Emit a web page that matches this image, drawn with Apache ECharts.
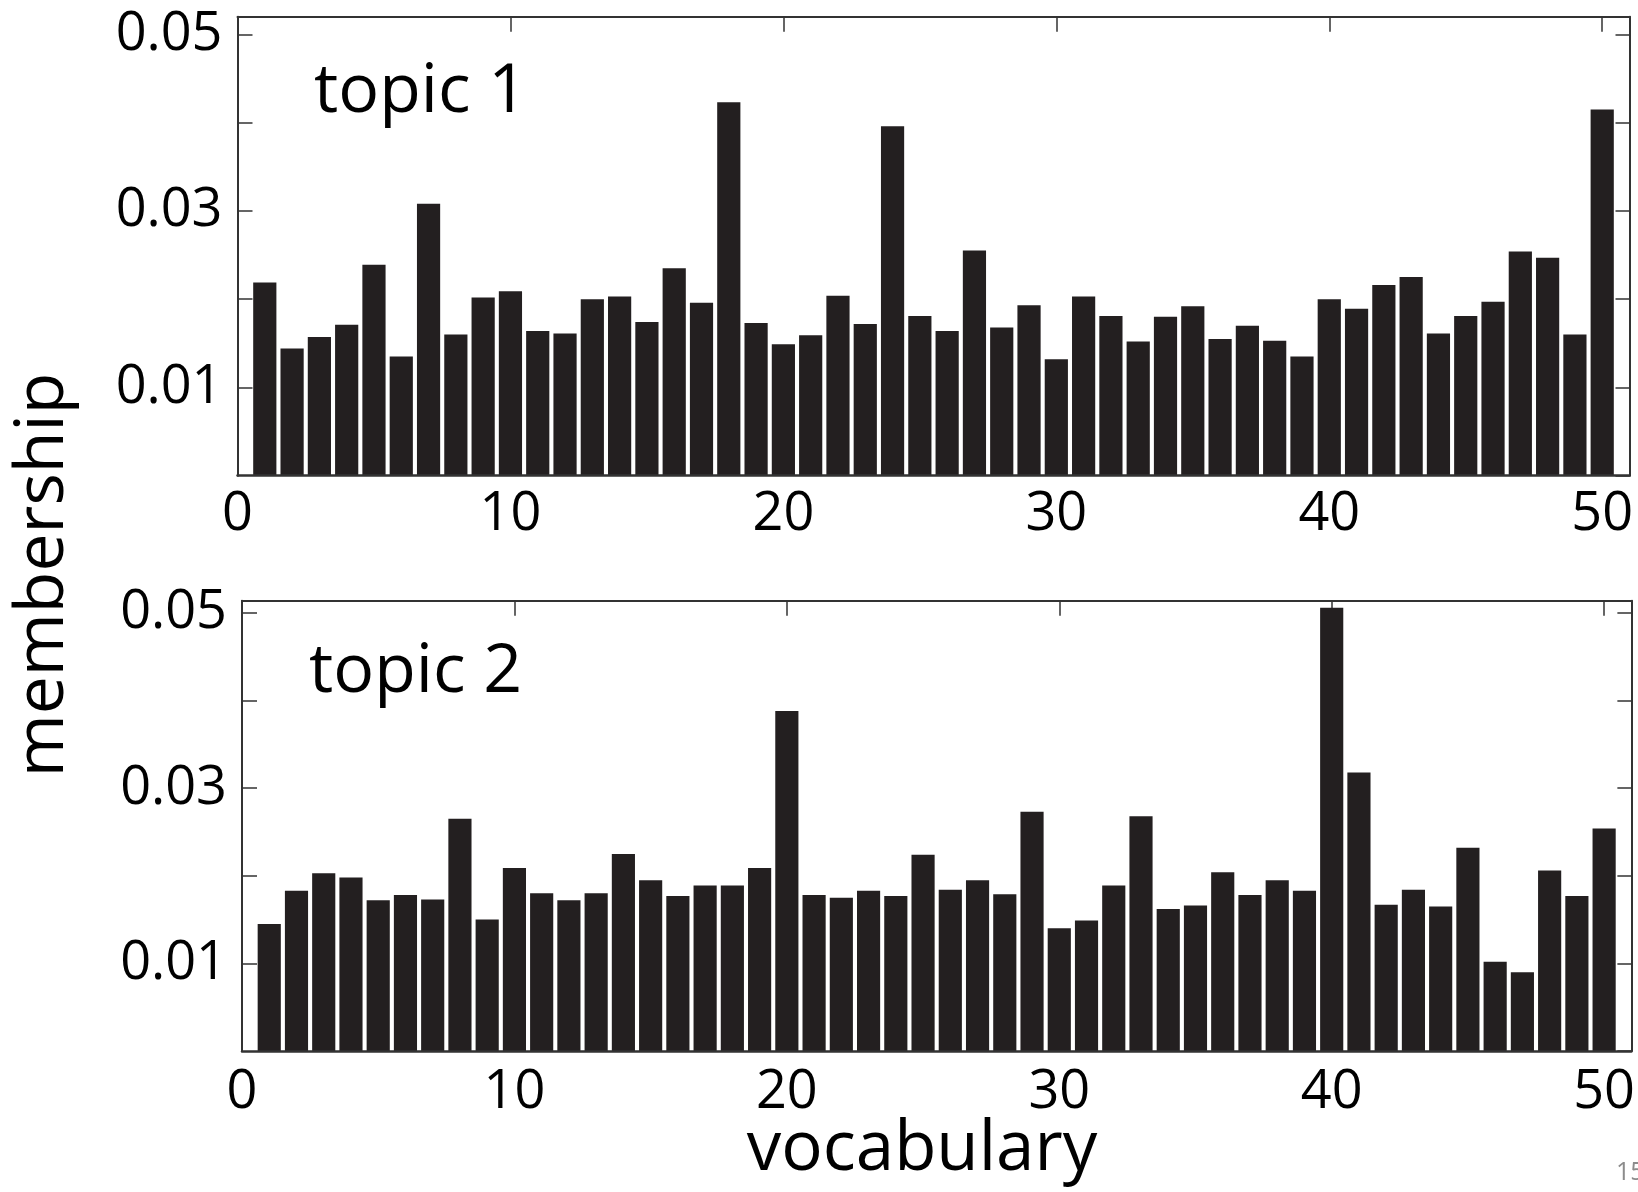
<!DOCTYPE html>
<html>
<head>
<meta charset="utf-8">
<script src="https://cdn.jsdelivr.net/npm/echarts@6/dist/echarts.min.js"></script>
<style>
  html, body { margin: 0; padding: 0; background: #ffffff; }
  #chart { width: 1638px; height: 1192px; }
</style>
</head>
<body>
<div id="chart"></div>
<script>
// ---- data ----
const vocab = [1,2,3,4,5,6,7,8,9,10,11,12,13,14,15,16,17,18,19,20,21,22,23,24,25,26,27,28,29,30,31,32,33,34,35,36,37,38,39,40,41,42,43,44,45,46,47,48,49,50];
const topic1 = [0.0219,0.0144,0.0157,0.0171,0.0239,0.0135,0.0308,0.0160,0.0202,0.0209,
                0.0164,0.0161,0.0200,0.0203,0.0174,0.0235,0.0196,0.0423,0.0173,0.0149,
                0.0159,0.0204,0.0172,0.0396,0.0181,0.0164,0.0255,0.0168,0.0193,0.0132,
                0.0203,0.0181,0.0152,0.0180,0.0192,0.0155,0.0170,0.0153,0.0135,0.0200,
                0.0189,0.0216,0.0225,0.0161,0.0181,0.0197,0.0254,0.0247,0.0160,0.0415];
const topic2 = [0.0145,0.0183,0.0203,0.0198,0.0172,0.0178,0.0173,0.0265,0.0150,0.0209,
                0.0180,0.0172,0.0180,0.0225,0.0195,0.0177,0.0189,0.0189,0.0209,0.0388,
                0.0178,0.0175,0.0183,0.0177,0.0224,0.0184,0.0195,0.0179,0.0273,0.0140,
                0.0149,0.0189,0.0268,0.0162,0.0166,0.0204,0.0178,0.0195,0.0183,0.0506,
                0.0318,0.0167,0.0184,0.0165,0.0232,0.0102,0.0090,0.0206,0.0177,0.0254];
const xTickLabels = ['0','10','20','30','40','50'];
const yTickLabels = ['0.01','0.03','0.05'];
const panelTitles = ['topic 1', 'topic 2'];
const xAxisTitle = 'vocabulary';
const yAxisTitle = 'membership';
const pageNumber = '15';

// ---- styling ----
const FONT = '"Open Sans", "Noto Sans", sans-serif';
const AXIS_COLOR = '#333333';
const BAR_COLOR = '#231f20';

function xFmt(v) { const s = String(Math.round(v)); return (Math.abs(v - Math.round(v)) < 1e-9 && xTickLabels.indexOf(s) >= 0) ? s : ''; }
function yFmt(v) {
  for (const l of yTickLabels) { if (Math.abs(parseFloat(l) - v) < 1e-9) return l; }
  return '';
}

function xAxes(gridIndex, margin) {
  return [
    { gridIndex, type: 'value', position: 'bottom', min: 0, max: 51, interval: 10, z: 5,
      axisLine: { show: true, onZero: false, lineStyle: { color: AXIS_COLOR, width: 2.5 } },
      axisTick: { show: false },
      axisLabel: { formatter: xFmt, fontSize: 54, fontFamily: FONT, color: '#000', margin: margin, showMaxLabel: false },
      splitLine: { show: false } },
    { gridIndex, type: 'value', position: 'top', min: 0, max: 51, interval: 10,
      axisLine: { show: true, onZero: false, lineStyle: { color: AXIS_COLOR, width: 2 } },
      axisTick: { show: true, inside: true, length: 15, lineStyle: { color: AXIS_COLOR, width: 1.5 } },
      axisLabel: { show: false },
      splitLine: { show: false } }
  ];
}
function yAxes(gridIndex, max) {
  return [
    { gridIndex, type: 'value', position: 'left', min: 0, max: max, interval: 0.01,
      axisLine: { show: true, onZero: false, lineStyle: { color: AXIS_COLOR, width: 2 } },
      axisTick: { show: true, inside: true, length: 15, lineStyle: { color: AXIS_COLOR, width: 1.5 } },
      axisLabel: { formatter: yFmt, fontSize: 54, fontFamily: FONT, color: '#000', margin: 15, showMaxLabel: false, showMinLabel: false },
      splitLine: { show: false } },
    { gridIndex, type: 'value', position: 'right', min: 0, max: max, interval: 0.01,
      axisLine: { show: true, onZero: false, lineStyle: { color: AXIS_COLOR, width: 2 } },
      axisTick: { show: true, inside: true, length: 14, lineStyle: { color: AXIS_COLOR, width: 1.5 } },
      axisLabel: { show: false },
      splitLine: { show: false } }
  ];
}

function txt(text, x, y, size, opts) {
  opts = opts || {};
  return {
    type: 'text', x: x, y: y, rotation: opts.rotation || 0, z: 10,
    style: {
      text: text, fontSize: size, fontFamily: FONT, fill: opts.fill || '#000',
      align: opts.align || 'left', textAlign: opts.align || 'left',
      verticalAlign: 'middle', textVerticalAlign: 'middle'
    }
  };
}

const chart = echarts.init(document.getElementById('chart'), null, { renderer: 'canvas' });
chart.setOption({
  animation: false,
  backgroundColor: '#ffffff',
  grid: [
    { left: 237.5, top: 16.7, width: 1392, height: 459 },
    { left: 242, top: 600.7, width: 1395, height: 450.3 }
  ],
  xAxis: [].concat(xAxes(0, 12), xAxes(1, 15)),
  yAxis: [].concat(yAxes(0, 0.052), yAxes(1, 0.0514)),
  series: [
    { type: 'bar', name: panelTitles[0], xAxisIndex: 0, yAxisIndex: 0, barWidth: '85%',
      itemStyle: { color: BAR_COLOR }, data: vocab.map((v, i) => [v, topic1[i]]) },
    { type: 'bar', name: panelTitles[1], xAxisIndex: 2, yAxisIndex: 2, barWidth: '85%',
      itemStyle: { color: BAR_COLOR }, data: vocab.map((v, i) => [v, topic2[i]]) }
  ],
  graphic: [
    txt(panelTitles[0], 314, 93, 68),
    txt(panelTitles[1], 309, 673, 68),
    txt(xAxisTitle, 922, 1150, 69, { align: 'center' }),
    txt(yAxisTitle, 44, 575, 68, { align: 'center', rotation: Math.PI / 2 }),
    txt(pageNumber, 1616, 1173, 25, { fill: '#8c8c8c' })
  ]
});
</script>
</body>
</html>
